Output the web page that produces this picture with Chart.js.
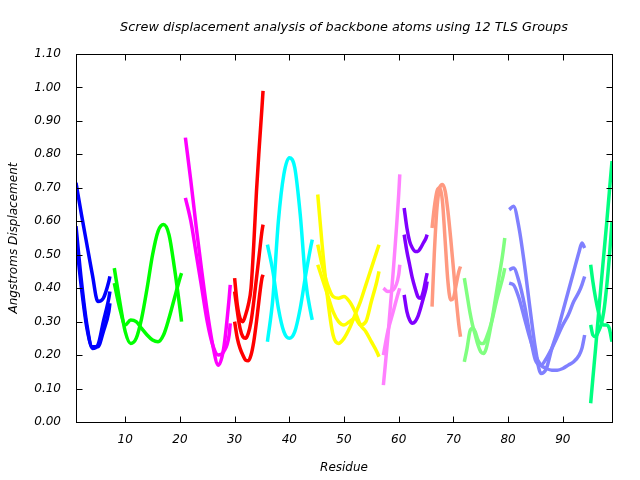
<!DOCTYPE html>
<html>
<head>
<meta charset="utf-8">
<script src="https://cdn.jsdelivr.net/npm/chart.js@4/dist/chart.umd.min.js"></script>
<style>
html, body { margin: 0; padding: 0; background: #fff; }
</style>
</head>
<body>
<canvas id="myChart" width="640" height="480"></canvas>
<script>
// axis ticks
const xTicks = [10, 20, 30, 40, 50, 60, 70, 80, 90];
const yTicks = [0, 0.1, 0.2, 0.3, 0.4, 0.5, 0.6, 0.7, 0.8, 0.9, 1.0, 1.1];

// TLS group 1
const g1Res = [1, 2, 3, 4, 5, 6, 7, 7.2];
const g1A = [0.715, 0.62, 0.53, 0.44, 0.36, 0.37, 0.42, 0.435];
const g1B = [0.585, 0.42, 0.29, 0.22, 0.23, 0.30, 0.37, 0.39];
const g1C = [0.55, 0.40, 0.28, 0.225, 0.225, 0.27, 0.33, 0.355];

// TLS group 2
const g2Res = [8, 9, 10, 11, 12, 13, 14, 15, 16, 17, 18, 19, 20, 20.3];
const g2A = [0.46, 0.36, 0.27, 0.235, 0.25, 0.31, 0.40, 0.50, 0.57, 0.59, 0.56, 0.46, 0.34, 0.30];
const g2B = [0.415, 0.34, 0.29, 0.305, 0.30, 0.28, 0.26, 0.245, 0.24, 0.26, 0.31, 0.37, 0.43, 0.445];

// TLS group 3
const g3Res = [21, 22, 23, 24, 25, 26, 27, 28, 29, 29.2];
const g3A = [0.85, 0.72, 0.58, 0.45, 0.33, 0.23, 0.17, 0.22, 0.37, 0.41];
const g3B = [0.67, 0.60, 0.50, 0.40, 0.30, 0.23, 0.20, 0.21, 0.26, 0.295];

// TLS group 4
const g4Res = [30, 30.5, 31, 31.5, 32, 32.5, 33, 33.5, 34, 34.5, 35, 35.2];
const g4A = [0.43, 0.35, 0.31, 0.30, 0.32, 0.35, 0.40, 0.53, 0.69, 0.82, 0.94, 0.99];
const g4B = [0.39, 0.33, 0.28, 0.255, 0.25, 0.265, 0.30, 0.36, 0.43, 0.50, 0.57, 0.59];
const g4C = [0.30, 0.25, 0.22, 0.20, 0.185, 0.183, 0.20, 0.24, 0.30, 0.37, 0.43, 0.44];

// TLS group 5
const g5Res = [36, 37, 38, 39, 40, 41, 42, 43, 44, 44.2];
const g5A = [0.24, 0.37, 0.60, 0.74, 0.79, 0.76, 0.62, 0.42, 0.32, 0.305];
const g5B = [0.53, 0.45, 0.34, 0.27, 0.25, 0.27, 0.34, 0.44, 0.53, 0.545];

// TLS group 6
const g6Res = [45.2, 46, 47, 48, 49, 50, 51, 52, 53, 54, 55, 56, 56.4];
const g6A = [0.68, 0.53, 0.37, 0.26, 0.235, 0.25, 0.28, 0.32, 0.36, 0.41, 0.46, 0.51, 0.53];
const g6B = [0.53, 0.47, 0.41, 0.375, 0.37, 0.375, 0.36, 0.33, 0.29, 0.27, 0.24, 0.21, 0.195];
const g6C = [0.47, 0.43, 0.38, 0.33, 0.30, 0.29, 0.30, 0.31, 0.29, 0.30, 0.36, 0.42, 0.45];

// TLS group 7
const g7Res = [57.2, 58, 59, 60, 60.2];
const g7A = [0.11, 0.25, 0.45, 0.68, 0.74];
const g7B = [0.40, 0.39, 0.395, 0.44, 0.47];
const g7C = [0.20, 0.27, 0.33, 0.39, 0.40];

// TLS group 8
const g8Res = [61, 61.5, 62, 62.5, 63, 63.5, 64, 64.5, 65, 65.2];
const g8A = [0.64, 0.58, 0.54, 0.52, 0.51, 0.51, 0.52, 0.535, 0.55, 0.56];
const g8B = [0.56, 0.51, 0.47, 0.43, 0.40, 0.375, 0.37, 0.39, 0.43, 0.445];
const g8C = [0.38, 0.33, 0.305, 0.295, 0.30, 0.315, 0.34, 0.37, 0.40, 0.42];

// TLS group 9
const g9Res = [66.1, 66.5, 67, 67.5, 68, 68.5, 69, 69.5, 70, 70.5, 71, 71.3];
const g9A = [0.345, 0.50, 0.64, 0.70, 0.71, 0.69, 0.63, 0.55, 0.46, 0.37, 0.29, 0.255];
const g9B = [0.58, 0.64, 0.69, 0.70, 0.66, 0.54, 0.42, 0.365, 0.37, 0.41, 0.45, 0.465];

// TLS group 10
const g10Res = [72, 72.5, 73, 73.5, 74, 74.5, 75, 75.5, 76, 77, 78, 79, 79.4];
const g10A = [0.43, 0.38, 0.33, 0.29, 0.26, 0.23, 0.21, 0.205, 0.22, 0.30, 0.40, 0.50, 0.55];
const g10B = [0.18, 0.22, 0.27, 0.28, 0.27, 0.245, 0.235, 0.235, 0.25, 0.30, 0.37, 0.43, 0.46];

// TLS group 11
const g11Res = [80.2, 81, 82, 83, 84, 85, 86, 87, 88, 89, 90, 91, 92, 93, 93.5, 94];
const g11A = [0.635, 0.645, 0.58, 0.47, 0.34, 0.22, 0.145, 0.16, 0.22, 0.27, 0.33, 0.39, 0.45, 0.51, 0.535, 0.52];
const g11B = [0.455, 0.46, 0.42, 0.35, 0.26, 0.185, 0.17, 0.19, 0.22, 0.255, 0.29, 0.32, 0.36, 0.39, 0.41, 0.435];
const g11C = [0.415, 0.41, 0.37, 0.31, 0.25, 0.20, 0.17, 0.16, 0.155, 0.155, 0.16, 0.17, 0.18, 0.20, 0.22, 0.26];

// TLS group 12
const g12Res = [95.1, 95.5, 96, 96.5, 97, 97.5, 98, 98.5, 99, 99.3];
const g12A = [0.056, 0.13, 0.22, 0.315, 0.41, 0.50, 0.59, 0.685, 0.78, 0.83];
const g12B = [0.47, 0.42, 0.37, 0.33, 0.30, 0.29, 0.29, 0.28, 0.24, 0.22];
const g12C = [0.29, 0.26, 0.255, 0.27, 0.29, 0.33, 0.40, 0.49, 0.60, 0.66];

const FONT = 'DejaVu Sans';
const TITLE = 'Screw displacement analysis of backbone atoms using 12 TLS Groups';

const groups = [
    { res: g1Res, lines: [g1A, g1B, g1C], color: 'rgb(0, 0, 255)' },
    { res: g2Res, lines: [g2A, g2B], color: 'rgb(0, 255, 0)' },
    { res: g3Res, lines: [g3A, g3B], color: 'rgb(255, 0, 255)' },
    { res: g4Res, lines: [g4A, g4B, g4C], color: 'rgb(255, 0, 0)' },
    { res: g5Res, lines: [g5A, g5B], color: 'rgb(0, 255, 255)' },
    { res: g6Res, lines: [g6A, g6B, g6C], color: 'rgb(255, 255, 0)' },
    { res: g7Res, lines: [g7A, g7B, g7C], color: 'rgb(255, 128, 255)' },
    { res: g8Res, lines: [g8A, g8B, g8C], color: 'rgb(128, 0, 255)' },
    { res: g9Res, lines: [g9A, g9B], color: 'rgb(255, 153, 128)' },
    { res: g10Res, lines: [g10A, g10B], color: 'rgb(128, 255, 128)' },
    { res: g11Res, lines: [g11A, g11B, g11C], color: 'rgb(128, 128, 255)' },
    { res: g12Res, lines: [g12A, g12B, g12C], color: 'rgb(0, 255, 128)' }
];

var datasets = [];
groups.forEach(function(g) {
    g.lines.forEach(function(vals) {
        datasets.push({
            data: g.res.map(function(r, i) { return { x: r, y: vals[i] }; }),
            borderColor: g.color,
            borderWidth: 3.5,
            pointRadius: 0,
            cubicInterpolationMode: 'monotone',
            fill: false
        });
    });
});

// box round the plot, inward ticks on all four sides, title over the plot
const frameTicks = {
    id: 'frameTicks',
    afterDraw: function(chart) {
        const c = chart.ctx;
        const a = chart.chartArea;
        const xs = chart.scales.x;
        const ys = chart.scales.y;
        const L = Math.round(a.left) + 0.5, R = Math.round(a.right) + 0.5;
        const T = Math.round(a.top) + 0.5, B = Math.round(a.bottom) + 0.5;
        c.save();
        c.strokeStyle = '#000';
        c.lineWidth = 1;
        c.beginPath();
        xTicks.forEach(function(t) {
            const px = Math.round(xs.getPixelForValue(t)) + 0.5;
            c.moveTo(px, B); c.lineTo(px, B - 6);
            c.moveTo(px, T); c.lineTo(px, T + 6);
        });
        yTicks.forEach(function(t) {
            const py = Math.round(ys.getPixelForValue(t)) + 0.5;
            c.moveTo(L, py); c.lineTo(L + 6, py);
            c.moveTo(R, py); c.lineTo(R - 6, py);
        });
        c.stroke();
        c.strokeRect(L, T, R - L, B - T);
        c.fillStyle = '#000';
        c.font = 'italic 12.8px "' + FONT + '"';
        c.textAlign = 'center';
        c.textBaseline = 'middle';
        c.fillText(TITLE, (a.left + a.right) / 2, 28);
        c.restore();
    }
};

new Chart(document.getElementById('myChart'), {
    type: 'line',
    data: { datasets: datasets },
    plugins: [frameTicks],
    options: {
        responsive: false,
        animation: false,
        layout: { padding: { top: 54, right: 28, left: 0, bottom: 0 } },
        plugins: {
            legend: { display: false },
            title: { display: false },
            tooltip: { enabled: false }
        },
        scales: {
            x: {
                type: 'linear',
                min: 1,
                max: 99,
                grid: { display: false },
                border: { display: false },
                afterBuildTicks: function(s) {
                    s.ticks = xTicks.map(function(v) { return { value: v }; });
                },
                afterFit: function(s) { s.height = 58; },
                ticks: {
                    padding: 3,
                    color: '#000',
                    font: { family: FONT, size: 12, style: 'italic' },
                    callback: function(v) { return v; }
                },
                title: {
                    display: true,
                    text: 'Residue',
                    color: '#000',
                    font: { family: FONT, size: 12, style: 'italic' },
                    padding: { top: 4, bottom: 5 }
                }
            },
            y: {
                min: 0,
                max: 1.1,
                grid: { display: false },
                border: { display: false },
                afterBuildTicks: function(s) {
                    s.ticks = yTicks.map(function(v) { return { value: v }; });
                },
                afterFit: function(s) { s.width = 76; },
                ticks: {
                    padding: 7,
                    color: '#000',
                    font: { family: FONT, size: 12, style: 'italic' },
                    callback: function(v) { return v.toFixed(2); }
                },
                title: {
                    display: true,
                    text: 'Angstroms Displacement',
                    color: '#000',
                    font: { family: FONT, size: 12, style: 'italic' },
                    padding: { top: 7, bottom: 4 }
                }
            }
        }
    }
});
</script>
</body>
</html>
